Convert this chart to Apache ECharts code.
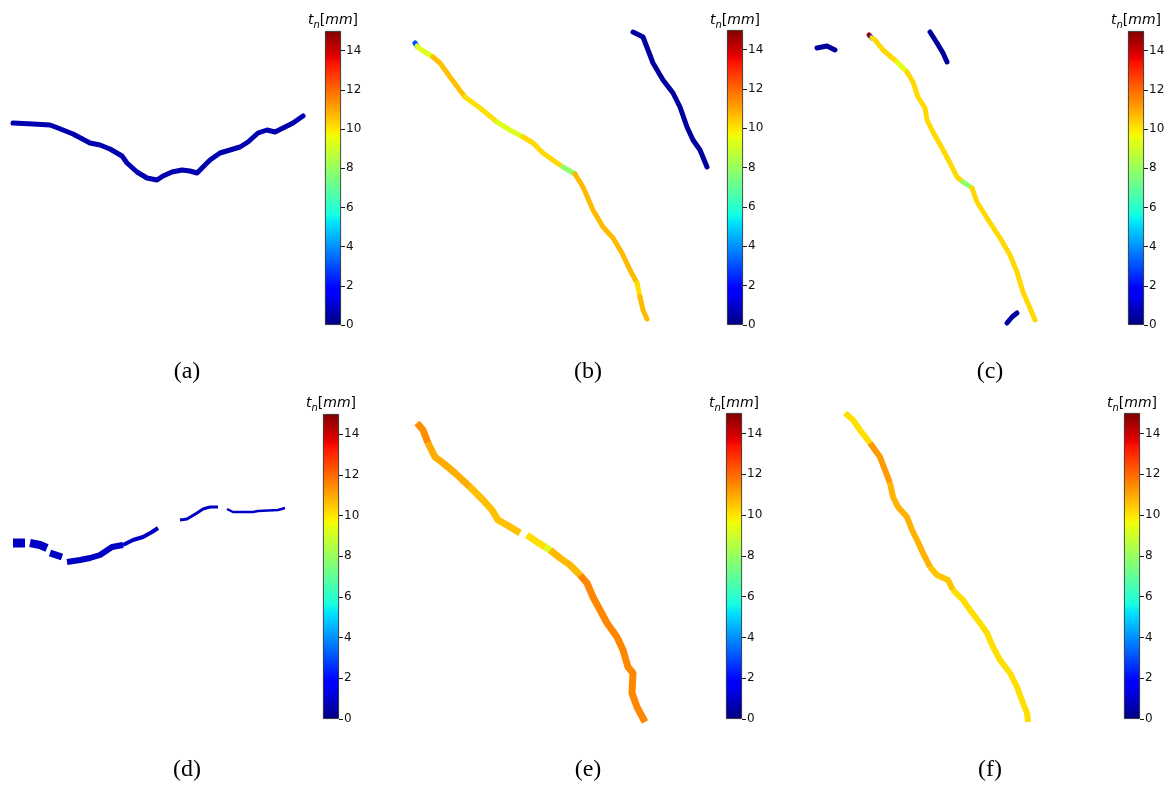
<!DOCTYPE html>
<html><head><meta charset="utf-8">
<script src="https://cdn.jsdelivr.net/npm/echarts@6/dist/echarts.min.js"></script>
<style>html,body{margin:0;padding:0;background:#fff}#c{width:1172px;height:786px}</style>
</head><body><div id="c"></div>
<script>
// ---------- data ----------
const colorbarRange = [0, 15];
const colorbarTicks = [0, 2, 4, 6, 8, 10, 12, 14];
const colorbarTitle = '{i|t}{s|n}{r|[}{i|mm}{r|]}';
const panelLabels = ['(a)', '(b)', '(c)', '(d)', '(e)', '(f)'];

// crack segments: local panel coordinates and opening t_n [mm]
const crackA = [
  {coords: [[13,103],[33,104],[50,105],[58,108],[73,114],[90,123],[100,125],[110,129],[122,136],[127,143],[137,152],[147,158],[157,160],[163,156],[172,152],[182,150],[190,151],[197,153],[202,148],[210,140],[220,133],[230,130],[240,127],[248,122],[258,113],[267,110],[275,112],[283,108],[293,103],[303,96]], value: 0.6}
];
const crackB = [
  {coords: [[15,23],[17,26]], value: 3.0},
  {coords: [[17,26],[20,29],[33,37]], value: 9.3},
  {coords: [[33,37],[40,43],[50,57],[65,77]], value: 10.6},
  {coords: [[65,77],[80,88],[97,102]], value: 10.1},
  {coords: [[97,102],[110,110],[123,117]], value: 9.3},
  {coords: [[123,117],[133,123],[143,133],[157,143],[163,147]], value: 10.2},
  {coords: [[163,147],[175,154]], value: 7.8},
  {coords: [[175,154],[183,167],[193,190],[203,207],[213,218],[222,233],[230,250],[237,263]], value: 10.7},
  {coords: [[237,263],[240,277]], value: 10.1},
  {coords: [[240,277],[243,290],[247,299]], value: 10.7},
  {coords: [[233,12],[243,17],[248,30],[253,43],[263,60],[273,73],[280,87],[287,107],[293,120],[300,130],[307,147]], value: 0.4}
];
const crackC = [
  {coords: [[17,28],[27,26],[35,30]], value: 0.4},
  {coords: [[69,15],[70,16]], value: 14.5},
  {coords: [[71,17],[72,18]], value: 3.0},
  {coords: [[72,18],[75,20],[83,30],[97,42]], value: 10.2},
  {coords: [[97,42],[107,52]], value: 9.4},
  {coords: [[107,52],[113,62],[118,77],[125,88],[127,100],[133,112],[142,128],[150,143],[157,157],[163,162]], value: 10.2},
  {coords: [[163,162],[172,168]], value: 7.8},
  {coords: [[172,168],[177,182],[187,198],[200,218],[210,235],[217,252],[223,272],[230,288],[235,300]], value: 10.2},
  {coords: [[130,12],[137,23],[143,33],[147,42]], value: 0.4},
  {coords: [[207,303],[212,297],[217,293]], value: 0.4}
];
const crackD = [
  {coords: [[13,143],[25,143]], value: 0.9},
  {coords: [[30,143],[40,145],[47,148]], value: 0.9},
  {coords: [[50,153],[62,157]], value: 0.9},
  {coords: [[67,162],[80,160],[90,158],[100,155],[112,147],[123,145]], value: 0.9},
  {coords: [[123,145],[133,140],[143,137],[152,132],[158,128]], value: 0.9},
  {coords: [[180,120],[187,119],[197,113],[203,109],[210,107],[218,107]], value: 0.9},
  {coords: [[227,109],[233,112],[253,112],[258,111],[278,110],[285,108]], value: 0.9}
];
const crackE = [
  {coords: [[17,23],[23,30],[28,43]], value: 11.4},
  {coords: [[28,43],[35,57],[43,63],[55,73],[70,87]], value: 10.9},
  {coords: [[70,87],[83,100],[92,110],[98,120],[107,125],[120,133]], value: 10.6},
  {coords: [[127,135],[137,142],[145,147]], value: 10.1},
  {coords: [[145,147],[150,150]], value: 9.2},
  {coords: [[150,150],[160,158],[170,165],[180,175]], value: 10.7},
  {coords: [[180,175],[187,183],[193,197],[200,210],[207,223],[217,237],[223,250],[228,267],[233,273],[232,293],[237,307],[245,322]], value: 11.5}
];
const crackF = [
  {coords: [[45,13],[53,20],[60,30],[70,43]], value: 10.1},
  {coords: [[70,43],[80,57],[85,70],[90,83]], value: 11.2},
  {coords: [[90,83],[93,97],[98,107],[107,117],[112,130],[117,140],[123,153],[130,167]], value: 10.8},
  {coords: [[130,167],[137,175],[148,180],[153,190]], value: 10.5},
  {coords: [[153,190],[163,200],[170,210],[180,223],[187,233],[193,247],[200,260],[210,273],[217,287],[223,303],[227,313],[228,322]], value: 10.1}
];

// ---------- styling / layout ----------
const cracks = [crackA, crackB, crackC, crackD, crackE, crackF];
const crackWidths = [5, 5, 5, 6, 7, 6];
const crackDWidths = [9, 8, 7, 6, 4, 3, 2.5];
const crackCaps = ['round', 'round', 'round', 'butt', 'butt', 'butt'];
const panelOrigin = [[0,20],[400,20],[800,20],[0,400],[400,400],[800,400]];
const PW = 320, PH = 340;
const cbRect = [[325,31,16,294],[727,30,16,295],[1128,31,16,294],[323,414,16,305],[726,413,16,306],[1124,413,16,306]];
const titleY = [20, 20, 20, 403, 403, 403];
const labelPos = [[187,372],[588,372],[990,372],[187,770],[588,770],[990,770]];

// jet colormap
const JR=[[0,0],[0.35,0],[0.66,1],[0.89,1],[1,0.5]];
const JG=[[0,0],[0.125,0],[0.375,1],[0.64,1],[0.91,0],[1,0]];
const JB=[[0,0.5],[0.11,1],[0.34,1],[0.65,0],[1,0]];
function ch(t, p){ for(let i=1;i<p.length;i++){ if(t<=p[i][0]){ const a=p[i-1], b=p[i]; return a[1]+(b[1]-a[1])*(t-a[0])/(b[0]-a[0]); } } return p[p.length-1][1]; }
function jet(t){ return 'rgb(' + [JR,JG,JB].map(p=>Math.round(255*ch(t,p))).join(',') + ')'; }
const jetStops = [0,0.11,0.125,0.34,0.35,0.375,0.64,0.65,0.66,0.89,0.91,1];
const jetList = []; for (let i=0;i<=90;i++) jetList.push(jet(i/90));

const grid=[], xAxis=[], yAxis=[], series=[], graphic=[];
cracks.forEach((segs, i) => {
  grid.push({left: panelOrigin[i][0], top: panelOrigin[i][1], width: PW, height: PH});
  xAxis.push({gridIndex: i, type: 'value', min: 0, max: PW, show: false});
  yAxis.push({gridIndex: i, type: 'value', min: 0, max: PH, inverse: true, show: false});
  series.push({
    type: 'lines', coordinateSystem: 'cartesian2d', xAxisIndex: i, yAxisIndex: i,
    polyline: true, silent: true,
    lineStyle: {width: crackWidths[i], opacity: 1, cap: crackCaps[i], join: 'round'},
    data: segs.map((s, k) => {
      const item = {coords: s.coords, value: s.value};
      if (i === 3) item.lineStyle = {width: crackDWidths[k]};
      return item;
    })
  });
});
cbRect.forEach((r, i) => {
  const g = 6 + i;
  grid.push({left: r[0], top: r[1], width: r[2], height: r[3]});
  xAxis.push({gridIndex: g, type: 'category', data: ['t'], show: false});
  yAxis.push({gridIndex: g, type: 'value', min: colorbarRange[0], max: colorbarRange[1], position: 'right',
    axisLine: {show: false}, splitLine: {show: false},
    axisTick: {show: true, length: 4, customValues: colorbarTicks, lineStyle: {color: '#000', width: 0.9}},
    axisLabel: {customValues: colorbarTicks, fontSize: 12, color: '#111', margin: 5, fontFamily: 'DejaVu Sans'}});
  series.push({
    type: 'bar', xAxisIndex: g, yAxisIndex: g, data: [colorbarRange[1]], barWidth: '100%', silent: true,
    itemStyle: {borderColor: '#222', borderWidth: 0.8,
      color: new echarts.graphic.LinearGradient(0, 1, 0, 0, jetStops.map(s => ({offset: s, color: jet(s)})))}
  });
  graphic.push({type: 'text', x: r[0] + r[2] / 2, y: titleY[i], silent: true,
    style: {text: colorbarTitle, align: 'center', verticalAlign: 'middle', fill: '#000',
      rich: {
        i: {fontFamily: 'DejaVu Sans', fontStyle: 'italic', fontSize: 14, lineHeight: 20, verticalAlign: 'middle'},
        r: {fontFamily: 'DejaVu Sans', fontSize: 14, lineHeight: 20, verticalAlign: 'middle'},
        s: {fontFamily: 'DejaVu Sans', fontStyle: 'italic', fontSize: 10, lineHeight: 10, verticalAlign: 'bottom'}
      }}});
});
panelLabels.forEach((t, i) => {
  graphic.push({type: 'text', x: labelPos[i][0], y: labelPos[i][1], silent: true,
    style: {text: t, align: 'center', verticalAlign: 'middle', fill: '#000', fontFamily: 'Liberation Serif', fontSize: 24}});
});

const chart = echarts.init(document.getElementById('c'));
chart.setOption({
  animation: false,
  backgroundColor: '#fff',
  grid, xAxis, yAxis, series, graphic,
  visualMap: {type: 'continuous', show: false, min: colorbarRange[0], max: colorbarRange[1],
    seriesIndex: [0,1,2,3,4,5], inRange: {color: jetList}}
});
</script></body></html>
